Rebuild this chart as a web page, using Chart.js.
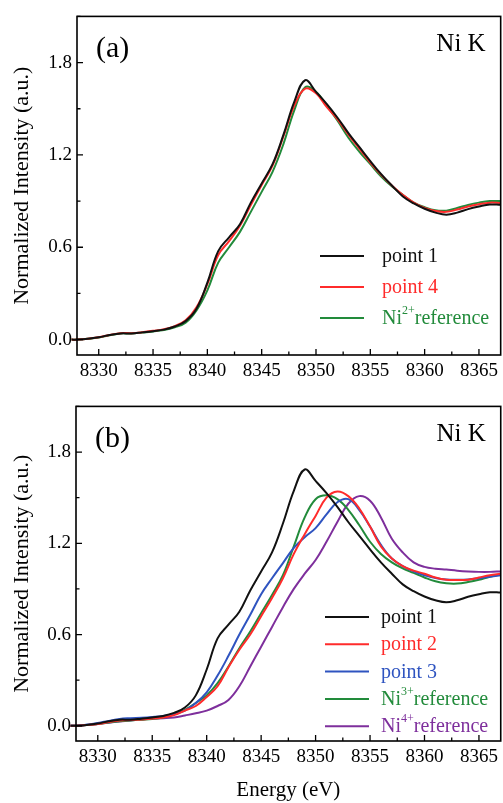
<!DOCTYPE html>
<html lang="en">
<head>
<meta charset="UTF-8">
<title>Ni K-edge XANES</title>
<script src="https://cdn.jsdelivr.net/npm/chart.js@4.4.1/dist/chart.umd.min.js"></script>
<style>
  body { margin: 0; background: #fff; }
  .painel { position: absolute; left: 0; }
</style>
</head>
<body>
<canvas id="graficoA" class="painel" width="503" height="390" style="top:0px"></canvas>
<canvas id="graficoB" class="painel" width="503" height="413" style="top:390px"></canvas>
<script>
// energy grid (eV) shared by every curve
const energia = [8327.5, 8328, 8329, 8330, 8331, 8332, 8333, 8334, 8335, 8336, 8337, 8338, 8339, 8340,
  8341, 8342, 8343, 8344, 8345, 8346, 8347, 8348, 8349, 8350, 8351, 8352, 8353, 8354, 8355, 8356,
  8357, 8358, 8359, 8360, 8361, 8362, 8363, 8364, 8365, 8366, 8367];

// panel (a)
const ponto1 = [0.0, 0.0, 0.005, 0.015, 0.03, 0.04, 0.04, 0.047, 0.055, 0.065, 0.085, 0.12, 0.2, 0.37,
  0.575, 0.665, 0.75, 0.89, 1.015, 1.14, 1.33, 1.545, 1.685, 1.61, 1.53, 1.44, 1.34, 1.25, 1.16, 1.075,
  1.0, 0.93, 0.885, 0.85, 0.825, 0.812, 0.825, 0.848, 0.865, 0.878, 0.876];
const ponto4 = [0.0, 0.0, 0.005, 0.015, 0.03, 0.042, 0.042, 0.048, 0.057, 0.068, 0.088, 0.125, 0.21, 0.36,
  0.55, 0.64, 0.74, 0.875, 1.005, 1.13, 1.32, 1.52, 1.63, 1.6, 1.51, 1.43, 1.33, 1.24, 1.15, 1.07,
  1.0, 0.94, 0.89, 0.855, 0.835, 0.83, 0.845, 0.865, 0.88, 0.89, 0.888];
const ni2ref = [0.0, 0.0, 0.005, 0.013, 0.028, 0.04, 0.04, 0.046, 0.053, 0.062, 0.08, 0.11, 0.19, 0.32,
  0.5, 0.6, 0.7, 0.83, 0.96, 1.09, 1.27, 1.49, 1.64, 1.61, 1.52, 1.42, 1.31, 1.22, 1.14, 1.06,
  0.995, 0.94, 0.89, 0.86, 0.84, 0.838, 0.855, 0.875, 0.89, 0.9, 0.9];

// panel (b)
const ponto2 = [0.0, 0.0, 0.005, 0.012, 0.025, 0.035, 0.038, 0.042, 0.048, 0.055, 0.07, 0.1, 0.13, 0.19,
  0.26, 0.385, 0.5, 0.6, 0.72, 0.84, 0.97, 1.13, 1.26, 1.38, 1.5, 1.54, 1.51, 1.43, 1.31, 1.18,
  1.1, 1.05, 1.02, 1.0, 0.975, 0.96, 0.958, 0.96, 0.975, 0.99, 1.0];
const ponto3 = [0.0, 0.0, 0.008, 0.018, 0.032, 0.045, 0.05, 0.053, 0.058, 0.065, 0.078, 0.1, 0.15, 0.22,
  0.33, 0.46, 0.6, 0.73, 0.865, 0.97, 1.07, 1.17, 1.24, 1.3, 1.39, 1.47, 1.49, 1.42, 1.31, 1.19,
  1.1, 1.05, 1.015, 0.99, 0.972, 0.962, 0.96, 0.962, 0.97, 0.98, 0.99];
const ni3ref = [0.0, 0.0, 0.005, 0.012, 0.022, 0.03, 0.035, 0.04, 0.045, 0.055, 0.075, 0.105, 0.15, 0.2,
  0.28, 0.39, 0.51, 0.62, 0.74, 0.86, 0.99, 1.18, 1.37, 1.49, 1.515, 1.49, 1.42, 1.32, 1.21, 1.13,
  1.075, 1.035, 1.005, 0.975, 0.95, 0.937, 0.935, 0.945, 0.96, 0.98, 0.995];
const ni4ref = [0.0, 0.0, 0.005, 0.012, 0.02, 0.028, 0.035, 0.042, 0.047, 0.05, 0.055, 0.068, 0.082, 0.1,
  0.13, 0.17, 0.26, 0.39, 0.52, 0.65, 0.78, 0.9, 1.0, 1.09, 1.21, 1.34, 1.46, 1.51, 1.48, 1.37,
  1.23, 1.14, 1.075, 1.045, 1.033, 1.027, 1.02, 1.015, 1.012, 1.012, 1.015];

const ticksX = [8330, 8335, 8340, 8345, 8350, 8355, 8360, 8365];
const ticksY = [0.0, 0.6, 1.2, 1.8];

const fonte = '"Liberation Serif", "Times New Roman", serif';
Chart.defaults.font.family = fonte;
Chart.defaults.color = '#000';

function serie(label, valores, cor) {
  return {
    label: label,
    data: valores.map((v, i) => ({ x: energia[i], y: v })),
    borderColor: cor,
    borderWidth: 2,
    pointRadius: 0,
    fill: false,
    tension: 0.4,
    clip: { left: 6, top: 0, right: 0, bottom: 0 }
  };
}

// draws the frame, inward ticks, panel tag and the legend
const molduraPlugin = {
  id: 'moldura',
  afterDatasetsDraw(chart, args, opts) {
    const { ctx, chartArea: a, scales: { x, y } } = chart;
    ctx.save();
    ctx.strokeStyle = '#000';
    ctx.lineWidth = 1.6;
    ctx.strokeRect(a.left, a.top, a.right - a.left, a.bottom - a.top);

    ctx.lineWidth = 1.3;
    ctx.beginPath();
    for (let v = 8330; v <= x.max; v += 2.5) {
      const px = x.getPixelForValue(v);
      const len = (v % 5 === 0) ? 6 : 3.5;
      ctx.moveTo(px, a.bottom);
      ctx.lineTo(px, a.bottom - len);
    }
    for (let i = 0; i * 0.3 <= y.max; i++) {
      const py = y.getPixelForValue(i * 0.3);
      const len = (i % 2 === 0) ? 6 : 3.5;
      ctx.moveTo(a.left, py);
      ctx.lineTo(a.left + len, py);
    }
    ctx.stroke();

    ctx.fillStyle = '#000';
    ctx.textBaseline = 'alphabetic';
    ctx.textAlign = 'left';
    ctx.font = '30px ' + fonte;
    ctx.fillText(opts.painel, a.left + 19, a.top + 41);
    ctx.textAlign = 'right';
    ctx.font = '25px ' + fonte;
    ctx.fillText('Ni K', a.right - 15, a.top + 35);

    // legend
    const L = opts.legenda;
    ctx.textAlign = 'left';
    chart.data.datasets.forEach((ds, i) => {
      const yy = L.topo + i * L.passo;
      ctx.strokeStyle = ds.borderColor;
      ctx.lineWidth = 2;
      ctx.beginPath();
      ctx.moveTo(L.xLinha, yy);
      ctx.lineTo(L.xLinha + L.comp, yy);
      ctx.stroke();
      ctx.fillStyle = ds.borderColor;
      const base = yy + 6;
      if (ds.sup) {
        ctx.font = '20px ' + fonte;
        ctx.fillText('Ni', L.xTexto, base);
        let xx = L.xTexto + ctx.measureText('Ni').width;
        ctx.font = '12px ' + fonte;
        ctx.fillText(ds.sup, xx, base - 10);
        xx += ctx.measureText(ds.sup).width;
        ctx.font = '20px ' + fonte;
        ctx.fillText('reference', xx, base);
      } else {
        ctx.font = '20px ' + fonte;
        ctx.fillText(ds.label, L.xTexto, base);
      }
    });
    ctx.restore();
  }
};

function criarGrafico(id, datasets, cfg) {
  return new Chart(document.getElementById(id), {
    type: 'line',
    data: { datasets: datasets },
    plugins: [molduraPlugin],
    options: {
      responsive: false,
      animation: false,
      devicePixelRatio: 1,
      layout: { padding: { top: cfg.topo, right: 1, bottom: 0, left: 0 } },
      plugins: {
        legend: { display: false },
        tooltip: { enabled: false },
        moldura: { painel: cfg.painel, legenda: cfg.legenda }
      },
      scales: {
        x: {
          type: 'linear',
          min: 8328,
          max: 8367,
          afterBuildTicks: s => { s.ticks = ticksX.map(v => ({ value: v })); },
          afterFit: s => { s.height = cfg.alturaX; },
          grid: { display: false, drawTicks: false },
          border: { display: false },
          ticks: { font: { size: 19 }, color: '#000', padding: 5, maxRotation: 0, autoSkip: false,
                   callback: v => String(v) },
          title: { display: cfg.tituloX, text: 'Energy (eV)', font: { size: 21 }, color: '#000',
                   padding: { top: 0, bottom: 0 } }
        },
        y: {
          min: -0.1,
          max: 2.1,
          afterBuildTicks: s => { s.ticks = ticksY.map(v => ({ value: v })); },
          afterFit: s => { s.width = cfg.larguraY; },
          grid: { display: false, drawTicks: false },
          border: { display: false },
          ticks: { font: { size: 19 }, color: '#000', padding: 5, callback: v => v.toFixed(1) },
          title: { display: true, text: 'Normalized Intensity (a.u.)', font: { size: 22 }, color: '#000',
                   padding: { top: 9, bottom: 0 } }
        }
      }
    }
  });
}

const dsA = [
  serie('point 1', ponto1, '#111111'),
  serie('point 4', ponto4, '#ff2b2b'),
  Object.assign(serie('Ni2+ reference', ni2ref, '#228b3b'), { sup: '2+' })
];
const dsB = [
  serie('point 1', ponto1, '#111111'),
  serie('point 2', ponto2, '#ff2b2b'),
  serie('point 3', ponto3, '#2f54c0'),
  Object.assign(serie('Ni3+ reference', ni3ref, '#228b3b'), { sup: '3+' }),
  Object.assign(serie('Ni4+ reference', ni4ref, '#7e2f9c'), { sup: '4+' })
];

criarGrafico('graficoA', dsA, {
  painel: '(a)', topo: 14, alturaX: 35, larguraY: 77, tituloX: false,
  legenda: { topo: 256, passo: 31, xLinha: 320, comp: 44, xTexto: 382 }
});
criarGrafico('graficoB', dsB, {
  painel: '(b)', topo: 7, alturaX: 62, larguraY: 76, tituloX: true,
  legenda: { topo: 227, passo: 27.3, xLinha: 325, comp: 44, xTexto: 381 }
});
</script>
</body>
</html>
